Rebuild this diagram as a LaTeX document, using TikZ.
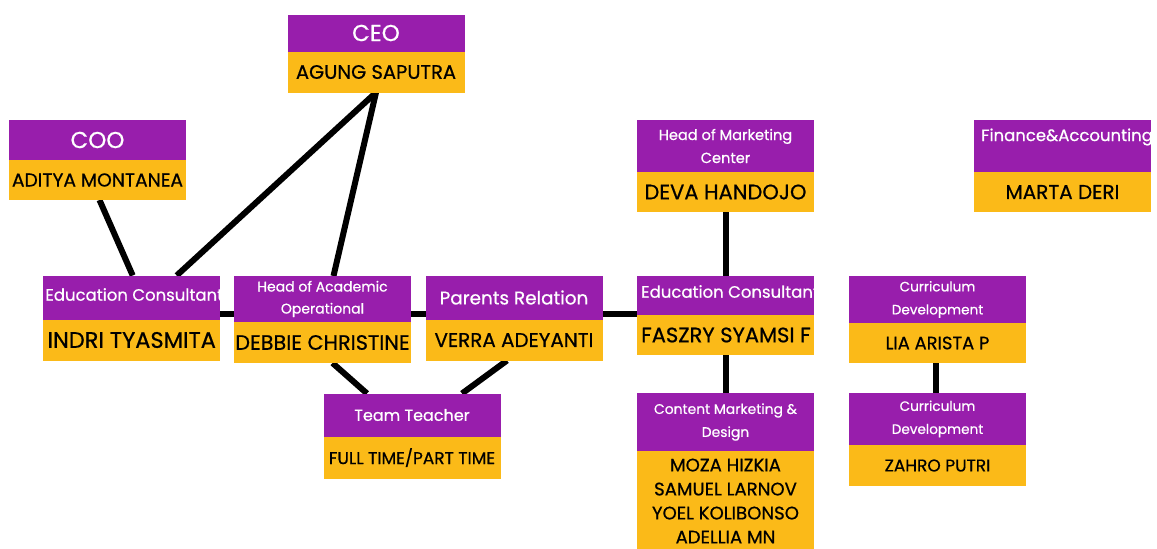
\documentclass[tikz,border=0pt]{standalone}
\usepackage{fontspec}
\setmainfont{Poppins}[FakeBold=0.6]
\usepackage{xcolor}
\usepackage{tikz}
\usetikzlibrary{positioning, backgrounds}
\definecolor{rolepurple}{RGB}{152, 30, 172}
\definecolor{nameamber}{RGB}{251, 186, 24}

\begin{document}
\begin{tikzpicture}[x=1pt, y=-1pt,
    role/.style={fill=rolepurple, text=white, minimum width=177pt, inner sep=0pt, outer sep=0pt, align=center},
    person/.style={fill=nameamber, text=black, minimum width=177pt, inner sep=0pt, outer sep=0pt, align=center},
    cut/.style={anchor=west, inner sep=0pt},
    link/.style={line width=6pt, black}]
    \useasboundingbox (0,0) rectangle (1157,549);

    % top
    \node[role, minimum height=37pt, font=\fontsize{23}{26}\selectfont] (ceoT) at (376, 33) {CEO};
    \node[person, minimum height=41pt, font=\fontsize{19.5}{22}\selectfont, below=0pt of ceoT] (ceo) {AGUNG SAPUTRA};

    \node[role, minimum height=40pt, font=\fontsize{23}{26}\selectfont] (cooT) at (97.5, 140) {COO};
    \node[person, minimum height=40pt, font=\fontsize{18.7}{22}\selectfont, below=0pt of cooT] (coo) {ADITYA MONTANEA};

    \node[role, minimum height=52pt, font=\fontsize{14.6}{23}\selectfont] (mktT) at (725.5, 146) {Head of Marketing\\Center};
    \node[person, minimum height=40pt, font=\fontsize{21}{24}\selectfont, below=0pt of mktT] (mkt) {DEVA HANDOJO};

    \node[role, minimum height=52pt] (finT) at (1062.5, 146) {};
    \node[person, minimum height=40pt, font=\fontsize{20}{23}\selectfont, below=0pt of finT] (fin) {MARTA DERI};
    \begin{scope}
        \clip (finT.south west) rectangle (finT.north east);
        \node[cut, text=white, font=\fontsize{16.5}{20}\selectfont] (finL) at ([xshift=7pt, yshift=9pt]finT.west) {Finance\&Accounting};
    \end{scope}

    % middle row
    \node[role, minimum height=44pt] (eduaT) at (131.7, 297.5) {};
    \node[person, minimum height=41pt, font=\fontsize{22.5}{26}\selectfont, below=0pt of eduaT] (edua) {INDRI TYASMITA};
    \begin{scope}
        \clip (eduaT.south west) rectangle (eduaT.north east);
        \node[cut, text=white, font=\fontsize{16.5}{20}\selectfont] (eduaL) at ([xshift=2pt, yshift=3pt]eduaT.west) {Education Consultant};
    \end{scope}

    \node[role, minimum height=46pt, font=\fontsize{14}{22}\selectfont] (acadT) at (322.5, 299) {Head of Academic\\Operational};
    \node[person, minimum height=41pt, font=\fontsize{20.8}{24}\selectfont, below=0pt of acadT] (acad) {DEBBIE CHRISTINE};

    \node[role, minimum height=44pt, font=\fontsize{18.4}{22}\selectfont] (parT) at (514, 297.5) {Parents Relation};
    \node[person, minimum height=41pt, font=\fontsize{19.9}{23}\selectfont, below=0pt of parT] (par) {VERRA ADEYANTI};

    \node[role, minimum height=39pt] (edubT) at (725.5, 295.5) {};
    \node[person, minimum height=40pt, below=0pt of edubT] (edub) {};
    \begin{scope}
        \clip (edubT.north west) rectangle (edub.south east);
        \node[cut, text=white, font=\fontsize{16.5}{20}\selectfont] (edubL) at ([xshift=4pt, yshift=4pt]edubT.west) {Education Consultant};
        \node[cut, font=\fontsize{21}{24}\selectfont] (edubN) at ([xshift=4pt]edub.west) {FASZRY SYAMSI F};
    \end{scope}

    \node[role, minimum height=47pt, font=\fontsize{13.6}{23}\selectfont] (curaT) at (937.5, 299.5) {Curriculum\\Development};
    \node[person, minimum height=40pt, font=\fontsize{17.9}{21}\selectfont, below=0pt of curaT] (cura) {LIA ARISTA P};

    % bottom row
    \node[role, minimum height=43pt, font=\fontsize{16}{20}\selectfont] (teamT) at (412, 415) {Team Teacher};
    \node[person, minimum height=42pt, font=\fontsize{17}{20}\selectfont, below=0pt of teamT] (team) {FULL TIME/PART TIME};

    \node[role, minimum height=58pt, font=\fontsize{13.9}{23}\selectfont] (contT) at (725.5, 422) {Content Marketing \&\\Design};
    \node[person, minimum height=100pt, font=\fontsize{18.1}{24}\selectfont, below=0pt of contT] (cont) {MOZA HIZKIA\\SAMUEL LARNOV\\YOEL KOLIBONSO\\ADELLIA MN};

    \node[role, minimum height=52pt, font=\fontsize{13.6}{23}\selectfont] (curbT) at (937.5, 419) {Curriculum\\Development};
    \node[person, minimum height=41pt, font=\fontsize{17}{20}\selectfont, below=0pt of curbT] (curb) {ZAHRO PUTRI};

    % links
    \coordinate (rail) at (0, 314);
    \begin{scope}[on background layer]
        \fill[white] (0,0) rectangle (1157,549);
        \draw[link] ([xshift=2pt]coo.south) -- ([xshift=1pt]eduaT.north);
        \draw[link] (ceo.south) -- ([xshift=45pt]eduaT.north);
        \draw[link] (ceo.south) -- ([xshift=11pt]acadT.north);
        \draw[link] (eduaT.east |- rail) -- (acadT.west |- rail);
        \draw[link] (acadT.east |- rail) -- (parT.west |- rail);
        \draw[link] (parT.east |- rail) -- (edubT.west |- rail);
        \draw[link] ([xshift=10pt]acad.south) -- ([xshift=-45pt]teamT.north);
        \draw[link] ([xshift=-7pt]par.south) -- ([xshift=50pt]teamT.north);
        \draw[link] (mkt.south) -- (edubT.north);
        \draw[link] (edub.south) -- (contT.north);
        \draw[link] ([xshift=-2pt]cura.south) -- ([xshift=-2pt]curbT.north);
    \end{scope}
\end{tikzpicture}
\end{document}
